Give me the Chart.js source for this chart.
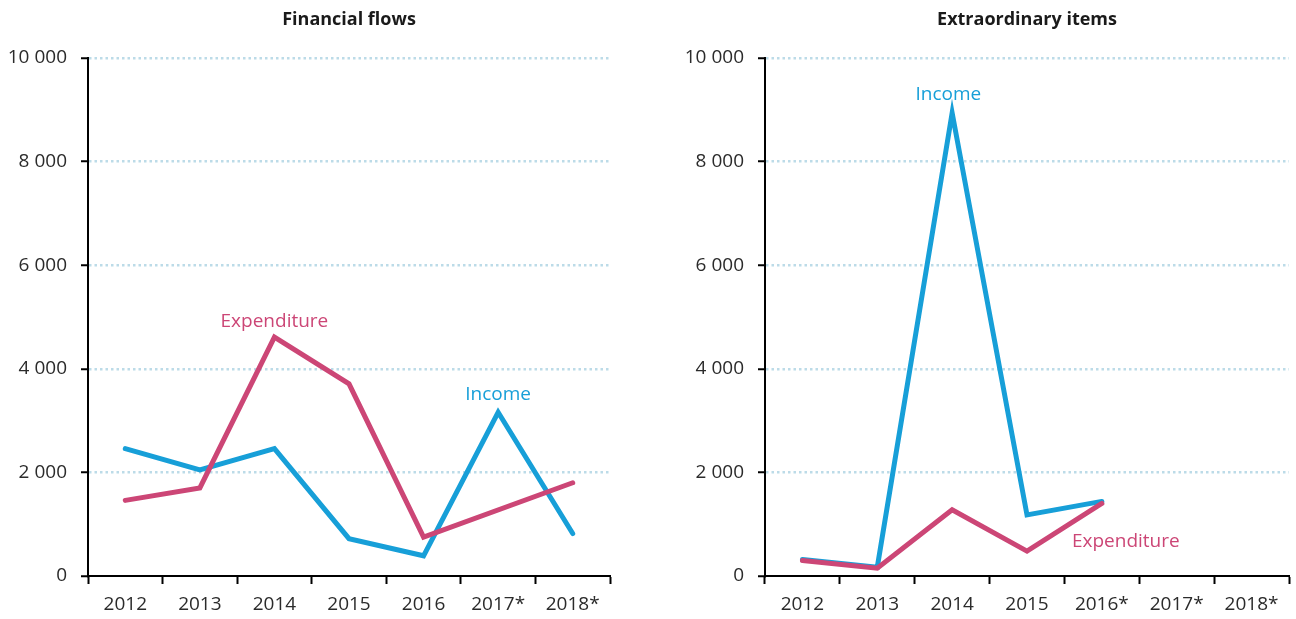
<!DOCTYPE html>
<html>
<head>
<meta charset="utf-8">
<script src="https://cdn.jsdelivr.net/npm/chart.js@4"></script>
<style>
  body { margin: 0; background: #fff; }
  canvas { position: absolute; top: 0; }
  #flows { left: 0; }
  #extra { left: 648px; }
</style>
</head>
<body>
<canvas id="flows" width="620" height="619"></canvas>
<canvas id="extra" width="648" height="619"></canvas>
<script>
const yearsFlows = ['2012', '2013', '2014', '2015', '2016', '2017*', '2018*'];
const yearsExtra = ['2012', '2013', '2014', '2015', '2016*', '2017*', '2018*'];

const flowsIncome = [2460, 2050, 2460, 720, 390, 3160, 820];
const flowsExpenditure = [1460, 1700, 4610, 3710, 750, null, 1800];

const extraIncome = [320, 170, 8940, 1180, 1440, null, null];
const extraExpenditure = [300, 150, 1280, 480, 1400, null, null];

const blue = '#179fd8';
const pink = '#cc4676';
const font = '"Open Sans", sans-serif';

// space as thousands separator: 10 000
function fmt(v) {
    return String(v).replace(/\B(?=(\d{3})+(?!\d))/g, ' ');
}

function makeChart(id, title, labels, income, expenditure, notes, yWidth, padRight) {
    // text labels next to the lines, placed in data coordinates
    const notesPlugin = {
        id: 'notes',
        afterDatasetsDraw(chart) {
            const {ctx, scales: {x, y}} = chart;
            ctx.save();
            ctx.font = '19px ' + font;
            ctx.textAlign = 'center';
            ctx.textBaseline = 'middle';
            notes.forEach(n => {
                ctx.fillStyle = n.color;
                ctx.fillText(n.text, x.getPixelForValue(n.at), y.getPixelForValue(n.value));
            });
            ctx.restore();
        }
    };

    return new Chart(document.getElementById(id), {
        type: 'line',
        data: {
            labels: labels,
            datasets: [{
                label: 'Expenditure',
                data: expenditure,
                borderColor: pink,
                borderWidth: 5,
                borderCapStyle: 'round',
                pointRadius: 0,
                spanGaps: true,
                tension: 0
            }, {
                label: 'Income',
                data: income,
                borderColor: blue,
                borderWidth: 5,
                borderCapStyle: 'round',
                pointRadius: 0,
                spanGaps: true,
                tension: 0
            }]
        },
        options: {
            responsive: false,
            animation: false,
            layout: { padding: { left: 0, right: padRight, top: 0, bottom: 0 } },
            plugins: {
                legend: { display: false },
                tooltip: { enabled: false },
                title: {
                    display: true,
                    text: title,
                    fullSize: false,
                    color: '#1a1a1a',
                    font: { family: font, size: 18, weight: 'bold' },
                    padding: { top: 9, bottom: 27.4 }
                }
            },
            scales: {
                x: {
                    offset: true,
                    grid: {
                        offset: true,
                        drawOnChartArea: false,
                        drawTicks: true,
                        tickLength: 8,
                        tickColor: '#000',
                        tickWidth: 2
                    },
                    border: { color: '#000', width: 2 },
                    ticks: {
                        color: '#2b2b2b',
                        font: { family: font, size: 19 },
                        padding: 9,
                        maxRotation: 0
                    },
                    afterFit(scale) { scale.height = 43; }
                },
                y: {
                    min: 0,
                    max: 10000,
                    ticks: {
                        stepSize: 2000,
                        color: '#2b2b2b',
                        font: { family: font, size: 19 },
                        padding: 14,
                        callback: v => fmt(v)
                    },
                    grid: {
                        color: ctx => ctx.tick && ctx.tick.value === 0 ? 'rgba(0,0,0,0)' : '#bcdbe8',
                        lineWidth: 2.5,
                        tickColor: '#000',
                        tickWidth: 2,
                        tickLength: 7,
                        tickBorderDash: []
                    },
                    border: { color: '#000', width: 2, dash: [2.5, 3] },
                    afterFit(scale) { scale.width = yWidth; }
                }
            }
        },
        plugins: [notesPlugin]
    });
}

makeChart('flows', 'Financial flows', yearsFlows, flowsIncome, flowsExpenditure, [
    { text: 'Expenditure', at: 2, value: 4910, color: pink },
    { text: 'Income', at: 5, value: 3510, color: blue }
], 88, 10);

makeChart('extra', 'Extraordinary items', yearsExtra, extraIncome, extraExpenditure, [
    { text: 'Income', at: 1.95, value: 9290, color: blue },
    { text: 'Expenditure', at: 4.32, value: 660, color: pink }
], 117, 7);
</script>
</body>
</html>
